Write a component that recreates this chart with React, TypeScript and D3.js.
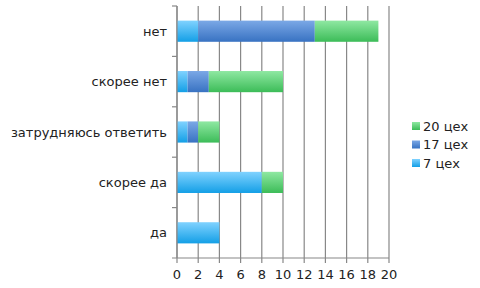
import React from "react";
import * as d3 from "d3";

const categories = ["нет", "скорее нет", "затрудняюсь ответить", "скорее да", "да"];
const seriesNames = ["7 цех", "17 цех", "20 цех"];
const v7 = [2, 1, 1, 8, 4];
const v17 = [11, 2, 1, 0, 0];
const v20 = [6, 7, 2, 2, 0];
const xTicks = [0, 2, 4, 6, 8, 10, 12, 14, 16, 18, 20];

const gradStops = [
  ["#80d2ff", "#139fe6"],
  ["#7ba8e6", "#3872c2"],
  ["#8fe8a2", "#3cbc58"],
];

export default function App() {
  const W = 480, H = 288;
  const left = 177, right = 389, top = 6, bottom = 258;
  const x = d3.scaleLinear().domain([0, 20]).range([left, right]);
  const y = d3.scaleBand().domain(categories).range([top, bottom]).paddingInner(0.58).paddingOuter(0.29);
  const rows = categories.map((c, i) => ({ cat: c, s0: v7[i], s1: v17[i], s2: v20[i] }));
  const stack = d3.stack<any>().keys(["s0", "s1", "s2"])(rows);
  const font = "DejaVu Sans, sans-serif";
  const step = (bottom - top) / categories.length;
  return (
    <svg width={W} height={H} style={{ position: "absolute", left: 0, top: 0 }}>
      <defs>
        {gradStops.map((g, i) => (
          <linearGradient key={i} id={"g" + i} x1="0" y1="0" x2="0" y2="1">
            <stop offset="0" stopColor={g[0]} />
            <stop offset="1" stopColor={g[1]} />
          </linearGradient>
        ))}
      </defs>
      <rect width={W} height={H} fill="#fff" />
      {xTicks.map((t) => (
        <line key={"g" + t} x1={x(t)} x2={x(t)} y1={top} y2={bottom + 5} stroke="#888" strokeWidth={1.2} />
      ))}
      {stack.map((layer, si) =>
        layer.map((d, ci) =>
          d[1] - d[0] > 0 ? (
            <rect key={si + "-" + ci} x={x(d[0])} width={x(d[1]) - x(d[0])} y={y(categories[ci])!} height={y.bandwidth()} fill={`url(#g${si})`} />
          ) : null
        )
      )}
      <line x1={left} x2={left} y1={top} y2={bottom} stroke="#888" strokeWidth={1.2} />
      <line x1={left - 5} x2={right} y1={bottom} y2={bottom} stroke="#888" strokeWidth={1.2} />
      {d3.range(categories.length).map((i) => (
        <line key={"yt" + i} x1={left - 5} x2={left} y1={top + i * step} y2={top + i * step} stroke="#888" strokeWidth={1.2} />
      ))}
      {categories.map((c) => (
        <text key={c} x={167} y={y(c)! + y.bandwidth() / 2} dy="0.35em" textAnchor="end" fontFamily={font} fontSize={13} fill="#222">
          {c}
        </text>
      ))}
      {xTicks.map((t) => (
        <text key={"xl" + t} x={x(t)} y={274} dy="0.35em" textAnchor="middle" fontFamily={font} fontSize={13} fill="#222">
          {t}
        </text>
      ))}
      {[2, 1, 0].map((si, k) => (
        <g key={"lg" + si} transform={`translate(412, ${122 + k * 18.5})`}>
          <rect width={8} height={8} fill={`url(#g${si})`} />
          <text x={11} y={4} dy="0.35em" fontFamily={font} fontSize={13} fill="#222">
            {seriesNames[si]}
          </text>
        </g>
      ))}
    </svg>
  );
}
